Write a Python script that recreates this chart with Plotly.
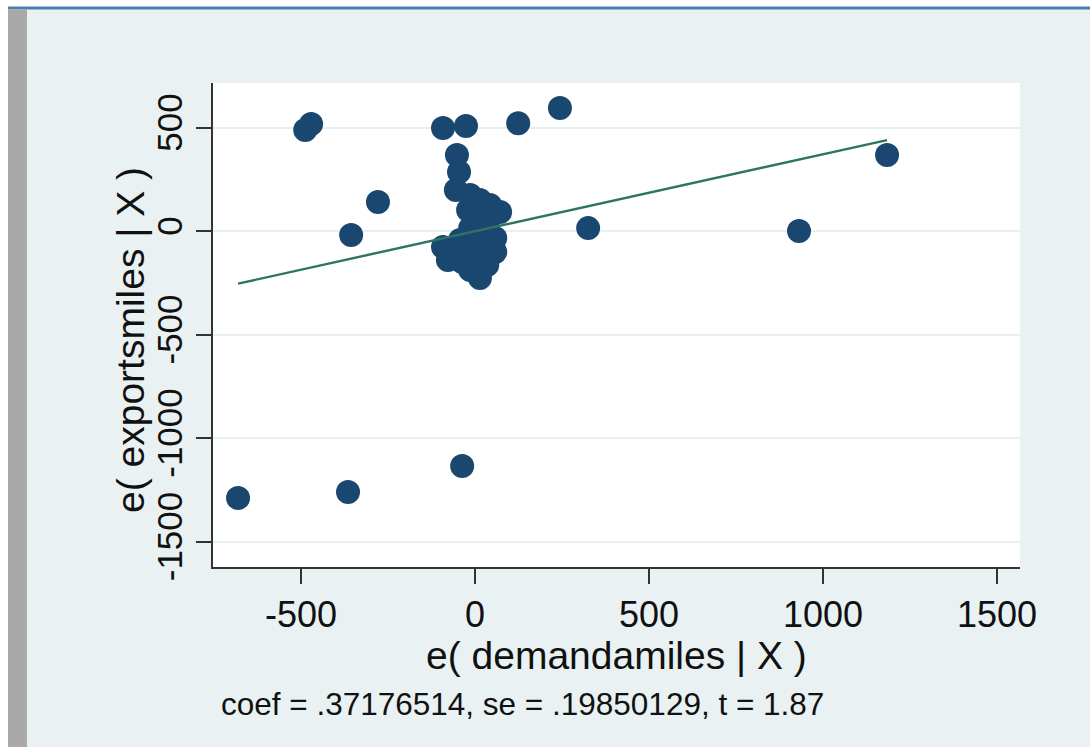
import plotly.graph_objects as go

# Added-variable plot: residuals of exportsmiles vs residuals of demandamiles
x_resid = [-681, -365, -37, -488, -471, -279, -356, -92, -26, 124, 244, 325, 931, 1184,
           -52, -46, -55, -14, 14, 43, 72, -20, 9, 37, -14, 20, 58, -43, -92, -66,
           -29, 9, 58, -78, -37, 0, 35, 14, -14]
y_resid = [-1289, -1260, -1134, 489, 518, 141, -18, 499, 508, 522, 595, 15, 1, 368,
           368, 286, 199, 175, 151, 127, 93, 102, 64, 44, 15, -19, -33, -42, -76, -100,
           -90, -81, -100, -139, -149, -149, -163, -226, -187]

coef = 0.37176514
se = 0.19850129
t_stat = 1.87

x_ticks = [-500, 0, 500, 1000, 1500]
y_ticks = [-1500, -1000, -500, 0, 500]

x_title = "e( demandamiles | X )"
y_title = "e( exportsmiles | X )"
note = f"coef = .{str(coef).split('.')[1]}, se = .{str(se).split('.')[1]}, t = {t_stat}"

FONT = "Liberation Sans, Arial, sans-serif"
NAVY = "#1a476f"
FIT = "#2f7461"
BG = "#e9f1f3"
INK = "#111111"

x_lo, x_hi = min(x_resid), max(x_resid)

fig = go.Figure()
fig.add_trace(go.Scatter(
    x=x_resid, y=y_resid, mode="markers",
    marker=dict(size=24, color=NAVY, line=dict(width=0)),
    showlegend=False, hoverinfo="x+y",
))
fig.add_trace(go.Scatter(
    x=[x_lo, x_hi], y=[coef * x_lo, coef * x_hi], mode="lines",
    line=dict(color=FIT, width=2.4),
    showlegend=False, hoverinfo="skip",
))

# plot area geometry (pixels)
L, R, T, B = 213, 70, 83, 180
W, H = 1090, 747
pw, ph = W - L - R, H - T - B


def px(xp):
    return (xp - L) / pw


def py(yp):
    return (H - B - yp) / ph


shapes = [
    # window chrome around the graph region
    dict(type="rect", xref="paper", yref="paper", x0=px(0), x1=px(W), y0=py(7), y1=py(0),
         fillcolor="white", line=dict(width=0)),
    dict(type="rect", xref="paper", yref="paper", x0=px(0), x1=px(8), y0=py(H), y1=py(0),
         fillcolor="white", line=dict(width=0)),
    dict(type="rect", xref="paper", yref="paper", x0=px(8), x1=px(W), y0=py(9.5), y1=py(6.5),
         fillcolor="#4a7fae", line=dict(width=0)),
    dict(type="rect", xref="paper", yref="paper", x0=px(8), x1=px(27), y0=py(H), y1=py(9.5),
         fillcolor="#a9a9a9", line=dict(width=0)),
]

annotations = [
    dict(text=x_title, xref="paper", yref="paper", x=px(616), y=py(655),
         xanchor="center", yanchor="middle", showarrow=False,
         font=dict(size=39, family=FONT, color=INK)),
    dict(text=y_title, xref="paper", yref="paper", x=px(130), y=py(340),
         xanchor="center", yanchor="middle", showarrow=False, textangle=-90,
         font=dict(size=39, family=FONT, color=INK)),
    dict(text=note, xref="paper", yref="paper", x=px(219), y=py(704),
         xanchor="left", yanchor="middle", showarrow=False,
         font=dict(size=31.5, family=FONT, color=INK)),
]

fig.update_layout(
    width=W, height=H,
    margin=dict(l=L, r=R, t=T, b=B, pad=0),
    paper_bgcolor=BG, plot_bgcolor="white",
    font=dict(family=FONT, color=INK),
    shapes=shapes,
    annotations=annotations,
    xaxis=dict(
        range=[-753, 1566], tickvals=x_ticks, ticktext=[str(v) for v in x_ticks],
        showgrid=False, zeroline=False,
        showline=True, linecolor="#333333", linewidth=1.5,
        ticks="outside", ticklen=15, tickwidth=1.5, tickcolor="#333333",
        tickfont=dict(size=36, family=FONT),
    ),
    yaxis=dict(
        range=[-1622, 716], tickvals=y_ticks, ticktext=[str(v) for v in y_ticks],
        tickangle=-90,
        showgrid=True, gridcolor="#e6eff1", gridwidth=2, zeroline=False,
        showline=True, linecolor="#333333", linewidth=1.5,
        ticks="outside", ticklen=15, tickwidth=1.5, tickcolor="#333333",
        tickfont=dict(size=35, family=FONT),
    ),
)

fig.write_html("out.html")
